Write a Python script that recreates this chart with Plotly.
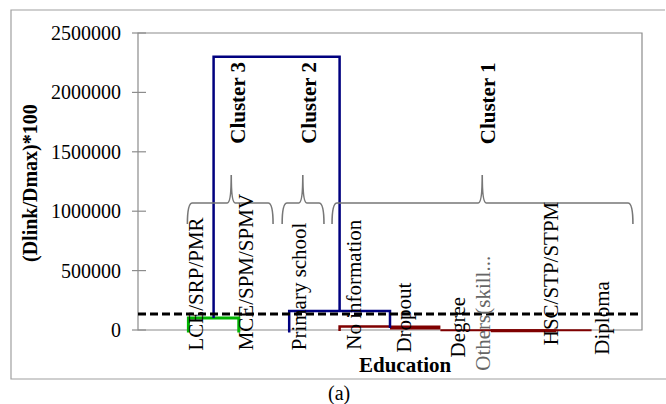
import plotly.graph_objects as go

# ---------------- data ----------------
categories = ["LCE/SRP/PMR", "MCE/SPM/SPMV", "Primary school", "No information",
              "Dropout", "Degree", "Others(skill...", "HSC/STP/STPM", "Diploma"]
leaf_pos = [1, 2, 3, 4, 5, 6, 7, 8, 9]

# dendrogram links (x in leaf units, y = (Dlink/Dmax)*100)
green_x = [1, 1, 2, 2]
green_y = [-20000, 100000, 100000, -20000]

blue_top_x = [1.5, 1.5, 4, 4]
blue_top_y = [100000, 2300000, 2300000, 160000]

blue_low_x = [3, 3, 5, 5]
blue_low_y = [-20000, 160000, 160000, 17000]

red1_x = [4, 4, 5]
red1_y = [-8000, 30000, 30000]
red2_x = [5, 6]
red2_y = [21000, 21000]
red3_x = [6, 9]
red3_y = [-2000, -2000]
red4_x = [7, 8.3]
red4_y = [-6000, -6000]

threshold = 135000

y_ticks = [0, 500000, 1000000, 1500000, 2000000, 2500000]
y_tick_text = ["0", "500000", "1000000", "1500000", "2000000", "2500000"]

cluster_names = ["Cluster 3", "Cluster 2", "Cluster 1"]
# brace extents in leaf units: (left, tip, right)
cluster_braces = [(0.98, 1.85, 2.68), (2.86, 3.27, 3.69), (3.85, 6.83, 9.82)]
cluster_label_x = [1.98, 3.39, 6.95]

# ---------------- layout helpers ----------------
W, H = 666, 404
L, R, T, B = 138, 642, 33, 333   # plot area in pixels
Y0PX = 330                       # pixel row of y = 0
YMAX = 2500000
scale = (Y0PX - T) / YMAX        # px per unit
ymin = -(B - Y0PX) / scale


def pxx(p):
    return (p - L) / (R - L)


def pxy(p):
    return (B - p) / (B - T)


FONT = "Liberation Serif"
NAVY = "#00007f"
GREEN = "#00b400"
DRED = "#7f0000"
GRAY = "#8c8c8c"

fig = go.Figure()


def add_line(x, y, color, width):
    fig.add_trace(go.Scatter(x=x, y=y, mode="lines", line=dict(color=color, width=width),
                             hoverinfo="skip", showlegend=False))


add_line(red3_x, red3_y, DRED, 2)
add_line(red4_x, red4_y, DRED, 3)
add_line(red1_x, red1_y, DRED, 2.5)
add_line(red2_x, red2_y, DRED, 4)
add_line(green_x, green_y, GREEN, 3)
add_line(blue_low_x, blue_low_y, NAVY, 2.5)
add_line(blue_top_x, blue_top_y, NAVY, 2.5)

# threshold dashed line
fig.add_trace(go.Scatter(x=[0, 10], y=[threshold, threshold], mode="lines",
                         line=dict(color="black", width=3, dash="8px,4px"),
                         hoverinfo="skip", showlegend=False))

shapes = []
# outer frame
shapes.append(dict(type="path", xref="paper", yref="paper",
                   path=f"M {pxx(665)},{pxy(10)} L {pxx(11)},{pxy(10)} L {pxx(11)},{pxy(379)} L {pxx(666)},{pxy(379)}",
                   line=dict(color="#a0a0a0", width=1.2)))
# plot-area box
shapes.append(dict(type="rect", xref="paper", yref="paper",
                   x0=0, x1=1, y0=pxy(Y0PX), y1=1,
                   line=dict(color=GRAY, width=1.2), layer="below"))
# y ticks crossing the axis
for v in y_ticks:
    yy = pxy(Y0PX - v * scale)
    shapes.append(dict(type="line", xref="paper", yref="paper",
                       x0=pxx(132), x1=pxx(146), y0=yy, y1=yy,
                       line=dict(color=GRAY, width=1.2)))

# braces
tip_y, bar_y, end_y = pxy(175), pxy(203), pxy(224)
for (a, tip, b) in cluster_braces:
    xa, xt, xb = a / 10, tip / 10, b / 10
    dx = 5 / (R - L)
    dt = 4 / (R - L)
    path = (f"M {xa},{end_y} Q {xa},{bar_y} {xa + dx},{bar_y} "
            f"L {xt - dt},{bar_y} Q {xt},{bar_y} {xt},{tip_y} "
            f"Q {xt},{bar_y} {xt + dt},{bar_y} "
            f"L {xb - dx},{bar_y} Q {xb},{bar_y} {xb},{end_y}")
    shapes.append(dict(type="path", xref="paper", yref="paper", path=path,
                       line=dict(color="#777777", width=1.6)))

annotations = []
# leaf labels (rotated)
label_dx = [0.15, 0.15, 0.2, 0.27, 0.27, 0.33, -0.17, 0.2, 0.2]
label_bottom = [352, 352, 352, 352, 355, 360, 373, 347, 357]
label_color = ["black"] * 9
label_color[6] = "#666666"
for i, c in enumerate(categories):
    annotations.append(dict(x=leaf_pos[i] + label_dx[i], xref="x",
                            y=pxy(label_bottom[i]), yref="paper",
                            text=c, textangle=-90, showarrow=False,
                            xanchor="center", yanchor="bottom",
                            font=dict(family=FONT, size=21, color=label_color[i])))

# cluster labels
for name, cx in zip(cluster_names, cluster_label_x):
    annotations.append(dict(x=cx, xref="x", y=pxy(60), yref="paper",
                            text=f"<b>{name}</b>", textangle=-90, showarrow=False,
                            xanchor="center", yanchor="top",
                            font=dict(family=FONT, size=21, color="black")))

# axis titles and caption
annotations.append(dict(x=pxx(405), xref="paper", y=pxy(365), yref="paper",
                        text="<b>Education</b>", showarrow=False,
                        xanchor="center", yanchor="middle",
                        font=dict(family=FONT, size=21, color="black")))
annotations.append(dict(x=pxx(30), xref="paper", y=pxy(183), yref="paper",
                        text="<b>(Dlink/Dmax)*100</b>", textangle=-90, showarrow=False,
                        xanchor="center", yanchor="middle",
                        font=dict(family=FONT, size=20, color="black")))
annotations.append(dict(x=pxx(339), xref="paper", y=pxy(393), yref="paper",
                        text="(a)", showarrow=False,
                        xanchor="center", yanchor="middle",
                        font=dict(family=FONT, size=20, color="black")))

fig.update_layout(
    width=W, height=H,
    margin=dict(l=L, r=W - R, t=T, b=H - B, pad=0),
    paper_bgcolor="white", plot_bgcolor="white",
    font=dict(family=FONT, color="black"),
    showlegend=False,
    xaxis=dict(range=[0, 10], showgrid=False, zeroline=False, showline=False,
               showticklabels=False, ticks=""),
    yaxis=dict(range=[ymin, YMAX], showgrid=False, zeroline=False, showline=False,
               tickvals=y_ticks, ticktext=y_tick_text, ticks="",
               ticklabelstandoff=16,
               tickfont=dict(family=FONT, size=20, color="black")),
    shapes=shapes,
    annotations=annotations,
)

fig.write_html("out.html", config={"displayModeBar": False},
               post_script="document.body.style.margin='0';document.body.style.overflow='hidden';")
